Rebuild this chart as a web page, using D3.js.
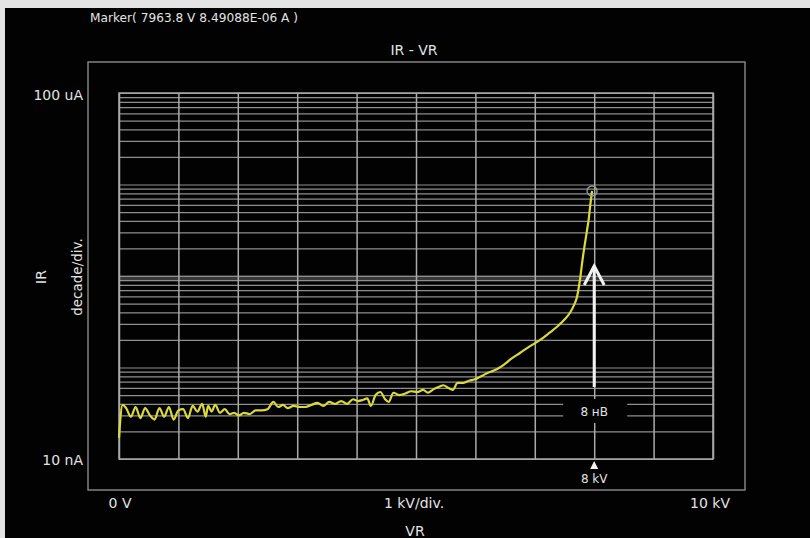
<!DOCTYPE html>
<html>
<head>
<meta charset="utf-8">
<script src="https://cdn.jsdelivr.net/npm/d3@7"></script>
<style>
body{margin:0;background:#e4e4e4;}
svg{display:block;}
text{font-family:"DejaVu Sans",Verdana,sans-serif;fill:#e2e2e2;}
</style>
</head>
<body>
<script>
// IR - VR sweep, voltage in kV, current in nA
var voltageKV = [0.00,0.06,0.12,0.20,0.28,0.36,0.44,0.52,0.60,0.68,0.76,0.84,0.92,1.00,1.08,1.16,1.24,1.32,1.40,1.46,
	1.50,1.56,1.62,1.70,1.78,1.86,1.94,2.02,2.10,2.20,2.30,2.40,2.50,2.60,2.68,2.76,2.84,2.94,3.04,3.14,
	3.24,3.34,3.44,3.54,3.64,3.74,3.84,3.94,4.02,4.10,4.18,4.24,4.32,4.40,4.48,4.54,4.62,4.72,4.82,4.92,
	5.02,5.12,5.20,5.30,5.40,5.46,5.54,5.62,5.70,5.80,5.90,5.98,6.06,6.14,6.22,6.30,6.41,6.50,6.60,6.75,
	6.90,7.09,7.25,7.37,7.50,7.59,7.66,7.71,7.76,7.81,7.85,7.88,7.91,7.93,7.9638];
var currentNA = [17,39,36,29,37,28,36,30,27,36,29,37,27,34,35,28,38,33,40,29,
	38,33,39,32,35,31,32,30,32,31,34,34,35,42,37,39,36,38,37,37,
	39,41,38,42,40,43,40,45,43,44,46,38,50,54,45,42,53,50,52,55,
	54,57,53,58,62,64,60,57,68,68,72,74,78,83,88,92,100,110,124,144,
	168,200,240,277,335,394,480,589,904,1614,2400,3184,4300,5675,8490.88];

var markerV = 7963.8;
var markerA = 8.49088e-6;
var breakdownKV = 8;

var title = "IR - VR";
var yLabels = ["100 uA", "10 nA"];
var xLabels = ["0 V", "1 kV/div.", "10 kV"];

var svgWidth = 810, svgHeight = 538;
var plot = {left: 119, right: 713, top: 93, bottom: 459};

var svg = d3.select("body").append("svg")
	.attr("width", svgWidth)
	.attr("height", svgHeight);

// black screen
svg.append("rect").attr("x", 5).attr("y", 8)
	.attr("width", svgWidth - 5).attr("height", svgHeight - 8)
	.attr("fill", "#020202");

var data = voltageKV.map(function(v, i){ return {v: v * 1000, i: currentNA[i] * 1e-9}; });

var x = d3.scaleLinear().domain([0, 10000]).range([plot.left, plot.right]);
var y = d3.scaleLog().domain([1e-8, 1e-4]).range([plot.bottom, plot.top]);

// outer frame
svg.append("rect").attr("x", 88).attr("y", 62).attr("width", 657).attr("height", 428)
	.attr("fill", "none").attr("stroke", "#828282").attr("stroke-width", 1.5);

// 1 uA band
svg.append("line").attr("x1", plot.left).attr("x2", plot.right)
	.attr("y1", y(1e-6) + 2).attr("y2", y(1e-6) + 2)
	.attr("stroke", "#383838").attr("stroke-width", 6);

// horizontal grid (log, 1..9 per decade)
var gy = svg.append("g").attr("transform", "translate(" + plot.left + ",0)")
	.call(d3.axisLeft(y).tickValues(y.ticks()).tickSize(-(plot.right - plot.left)).tickFormat(""));
gy.select(".domain").remove();
gy.selectAll("line").attr("stroke", "#8e8e8e").attr("stroke-width", 1.2);

// vertical grid, 1 kV/div
var gx = svg.append("g").attr("transform", "translate(0," + plot.bottom + ")")
	.call(d3.axisBottom(x).ticks(10).tickSize(-(plot.bottom - plot.top)).tickFormat(""));
gx.select(".domain").remove();
gx.selectAll("line").attr("stroke", "#ababab").attr("stroke-width", 1.5);

svg.append("rect").attr("x", plot.left).attr("y", plot.top)
	.attr("width", plot.right - plot.left).attr("height", plot.bottom - plot.top)
	.attr("fill", "none").attr("stroke", "#ababab").attr("stroke-width", 1.5);

// curve
var line = d3.line()
	.curve(d3.curveMonotoneX)
	.x(function(d){ return x(d.v); })
	.y(function(d){ return y(d.i); });
svg.append("path").datum(data)
	.attr("d", line)
	.attr("fill", "none")
	.attr("stroke", "#dada3a")
	.attr("stroke-width", 2.2)
	.attr("stroke-linejoin", "round");

// marker circle
svg.append("circle").attr("cx", x(markerV)).attr("cy", y(markerA)).attr("r", 5)
	.attr("fill", "none").attr("stroke", "#9a9a9a").attr("stroke-width", 1.3);

// breakdown arrow + label
var bx = x(breakdownKV * 1000);
svg.append("rect").attr("x", bx - 31).attr("y", 399).attr("width", 64).attr("height", 24)
	.attr("fill", "#020202");
svg.append("text").attr("x", bx).attr("y", 416).attr("text-anchor", "middle")
	.style("font-size", "12px").text("8 нВ");
svg.append("line").attr("x1", bx).attr("x2", bx).attr("y1", 387).attr("y2", 266)
	.attr("stroke", "#f2f2f2").attr("stroke-width", 3);
svg.append("path")
	.attr("d", "M" + (bx - 10) + ",285L" + bx + ",266L" + (bx + 10) + ",285")
	.attr("fill", "none").attr("stroke", "#f2f2f2").attr("stroke-width", 3);
svg.append("path")
	.attr("d", "M" + (bx - 4) + ",469L" + bx + ",461L" + (bx + 4) + ",469Z")
	.attr("fill", "#f2f2f2");
svg.append("text").attr("x", bx).attr("y", 483).attr("text-anchor", "middle")
	.style("font-size", "12px").text(breakdownKV + " kV");

// texts
svg.append("text").attr("x", 90).attr("y", 22)
	.style("font-size", "12px").attr("textLength", 208).attr("lengthAdjust", "spacingAndGlyphs")
	.text("Marker( " + markerV.toFixed(1) + " V  " + "8.49088E-06 A )");
svg.append("text").attr("x", 414).attr("y", 55).attr("text-anchor", "middle")
	.style("font-size", "14px").text(title);
svg.append("text").attr("x", 83).attr("y", 100).attr("text-anchor", "end")
	.style("font-size", "14px").text(yLabels[0]);
svg.append("text").attr("x", 83).attr("y", 465).attr("text-anchor", "end")
	.style("font-size", "14px").text(yLabels[1]);
svg.append("text").attr("transform", "translate(46,277) rotate(-90)").attr("text-anchor", "middle")
	.style("font-size", "14px").text("IR");
svg.append("text").attr("transform", "translate(82,277) rotate(-90)").attr("text-anchor", "middle")
	.style("font-size", "13.5px").text("decade/div.");
svg.append("text").attr("x", 120).attr("y", 508).attr("text-anchor", "middle")
	.style("font-size", "14px").text(xLabels[0]);
svg.append("text").attr("x", 414).attr("y", 508).attr("text-anchor", "middle")
	.style("font-size", "14px").text(xLabels[1]);
svg.append("text").attr("x", 710).attr("y", 508).attr("text-anchor", "middle")
	.style("font-size", "14px").text(xLabels[2]);
svg.append("text").attr("x", 415).attr("y", 536).attr("text-anchor", "middle")
	.style("font-size", "14px").text("VR");
</script>
</body>
</html>
